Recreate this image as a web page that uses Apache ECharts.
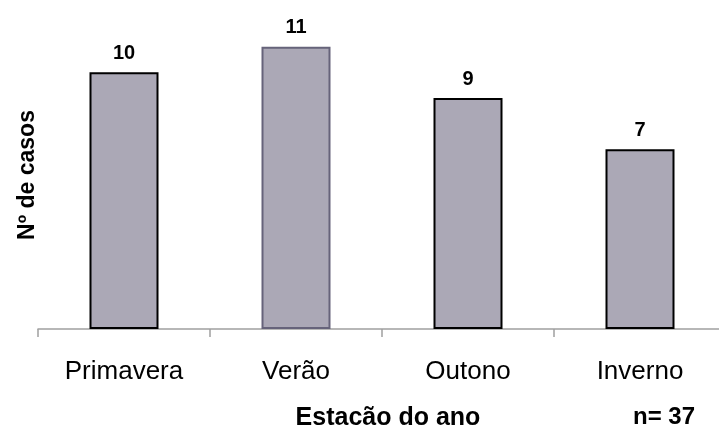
<!DOCTYPE html>
<html>
<head>
<meta charset="utf-8">
<script src="https://cdn.jsdelivr.net/npm/echarts@6/dist/echarts.min.js"></script>
<style>
  html, body { margin: 0; padding: 0; background: #ffffff; }
  #chart { width: 719px; height: 427px; }
</style>
</head>
<body>
<div id="chart"></div>
<script>
// Cases per season of the year
const seasons = ['Primavera', 'Verão', 'Outono', 'Inverno'];
const cases = [10, 11, 9, 7];
const totalLabel = 'n= 37';

const FONT = '"Liberation Sans", Arial, Helvetica, sans-serif';

const chart = echarts.init(document.getElementById('chart'), null, { renderer: 'canvas' });

chart.setOption({
  animation: false,
  backgroundColor: '#ffffff',
  grid: { left: 38, top: 21, width: 688, bottom: 98, containLabel: false, outerBoundsMode: 'none' },
  xAxis: {
    type: 'category',
    data: seasons,
    boundaryGap: true,
    axisLine: { show: true, lineStyle: { color: '#a0a0a0', width: 1.5 } },
    axisTick: { show: true, inside: false, length: 8, alignWithLabel: false, lineStyle: { color: '#a0a0a0', width: 1.5 } },
    axisLabel: { color: '#000000', fontFamily: FONT, fontSize: 26, margin: 30 },
    name: 'Estacão do ano',
    nameLocation: 'middle',
    nameGap: 77,
    nameTextStyle: { color: '#000000', fontFamily: FONT, fontSize: 25, fontWeight: 'bold', padding: [0, 0, 0, 12] }
  },
  yAxis: {
    type: 'value',
    min: 0,
    max: 12,
    axisLine: { show: false },
    axisTick: { show: false },
    axisLabel: { show: false },
    splitLine: { show: false },
    name: 'Nº de casos',
    nameLocation: 'middle',
    nameRotate: 90,
    nameGap: -1,
    nameTextStyle: { color: '#000000', fontFamily: FONT, fontSize: 23, fontWeight: 'bold' }
  },
  series: [{
    type: 'bar',
    data: cases.map((v, i) => ({
      value: v,
      itemStyle: { borderColor: i === 1 ? '#66637a' : '#000000' }
    })),
    barWidth: 69,
    itemStyle: { color: '#aba8b6', borderColor: '#000000', borderWidth: 2 },
    label: {
      show: true,
      position: 'top',
      distance: 9,
      color: '#000000',
      fontFamily: FONT,
      fontSize: 20,
      fontWeight: 'bold'
    }
  }],
  graphic: [{
    type: 'text',
    left: 633,
    top: 405,
    style: { text: totalLabel, fill: '#000000', font: 'bold 24px ' + FONT }
  }]
});
</script>
</body>
</html>
